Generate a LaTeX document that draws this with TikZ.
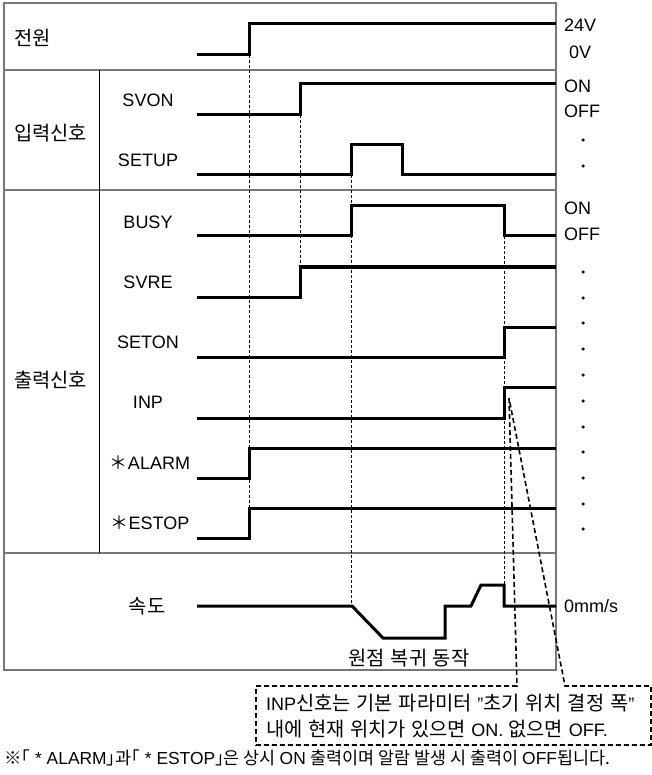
\documentclass[tikz,border=0pt]{standalone}
\usepackage{fontspec}
\setmainfont{Liberation Sans}
\newfontfamily\kr[Scale=1.1,WordSpace=1.3]{Noto Sans CJK KR}
\newfontfamily\krfoot{Noto Sans CJK KR}
\definecolor{framegray}{RGB}{120,120,120}
\begin{document}
\begin{tikzpicture}[x=1pt,y=-1pt,
  sig/.style={line width=3pt},
  frameline/.style={draw=framegray,line width=1.5pt},
  guide/.style={dash pattern=on 3pt off 2pt, line width=1pt},
  callout/.style={dash pattern=on 5pt off 3pt, line width=1.6pt},
  lbl/.style={font=\fontsize{18}{21}\selectfont, inner sep=0},
  footlbl/.style={font=\fontsize{17.4}{21}\selectfont, inner sep=0},
  dotmark/.style={circle, fill, inner sep=0, minimum size=3.5pt}
]
\useasboundingbox (0,0) rectangle (652,775);
% frame
\draw[frameline] (4,3) rectangle (556,670);
\draw[frameline] (4,70) -- (556,70);
\draw[frameline] (4,190) -- (556,190);
\draw[frameline] (4,553) -- (556,553);
\draw[line width=1pt] (99,70) -- (99,553);
% guides
\draw[guide] (249,55) -- (249,508);
\draw[guide] (300,115) -- (300,297);
\draw[guide] (351,175) -- (351,606);
\draw[guide] (504,236) -- (504,585);
% signals
\draw[sig] (197,55) -- (249,55) -- (249,24) -- (556,24);
\draw[sig] (197,115) -- (300,115) -- (300,84) -- (556,84);
\draw[sig] (197,175) -- (351,175) -- (351,145) -- (402,145) -- (402,175) -- (556,175);
\draw[sig] (197,236) -- (351,236) -- (351,206) -- (504,206) -- (504,236) -- (556,236);
\draw[sig] (197,297) -- (300,297) -- (300,267) -- (556,267);
\draw[sig] (197,357) -- (504,357) -- (504,327) -- (556,327);
\draw[sig] (197,418) -- (504,418) -- (504,387) -- (556,387);
\draw[sig] (197,478) -- (249,478) -- (249,448) -- (556,448);
\draw[sig] (197,538) -- (249,538) -- (249,508) -- (556,508);
\draw[sig] (197,606) -- (352,606) -- (383,638) -- (445,638) -- (445,606) -- (471,606) -- (481,585) -- (504,585) -- (504,606) -- (556,606);
% left labels
\node[lbl,anchor=west] (pw) at (14,38) {\kr 전원};
\node[lbl,anchor=west] (inp) at (14,133) {\kr 입력신호};
\node[lbl,anchor=west] (outp) at (14,380) {\kr 출력신호};
\node[lbl] (svon) at (148,100) {SVON};
\node[lbl] (setup) at (148,160) {SETUP};
\node[lbl] (busy) at (148,222) {BUSY};
\node[lbl] (svre) at (148,282) {SVRE};
\node[lbl] (seton) at (148,342) {SETON};
\node[lbl] (inpsig) at (148,402) {INP};
\node[lbl] (alarm) at (150,463) {{\krfoot ＊}ALARM};
\node[lbl] (estop) at (150,523) {{\krfoot ＊}ESTOP};
\node[lbl] (speed) at (147,606) {\kr 속도};
\node[lbl] (home) at (409,658) {\kr 원점 복귀 동작};
% right labels
\node[lbl,anchor=west] (v24) at (564,25) {24V};
\node[lbl,anchor=west] (v0) at (569,52) {0V};
\node[lbl,anchor=west] (on1) at (564,86) {ON};
\node[lbl,anchor=west] (off1) at (564,111) {OFF};
\node[lbl,anchor=west] (on2) at (564,208) {ON};
\node[lbl,anchor=west] (off2) at (564,234) {OFF};
\node[lbl,anchor=west] (zero) at (564,606) {0mm/s};
\foreach \i/\yy in {1/140,2/166,3/272,4/298,5/323,6/349,7/375,8/401,9/427,10/452,11/478,12/504,13/529}
  \node[dotmark] (d\i) at (583,\yy) {};
% callout
\coordinate (ptr) at (509,398);
\draw[callout] (ptr) -- (517,686) -- (256,686) -- (256,745) -- (651,745) -- (651,686) -- (565,686) -- (ptr);
\node[lbl,anchor=west,align=left] (note1) at (266,703) {INP{\kr 신호는 기본 파라미터 }"{\kr 초기 위치 결정 폭}"};
\node[lbl,anchor=west,align=left] (note2) at (266,729) {{\kr 내에 현재 위치가 있으면 }ON. {\kr 없으면 }OFF.};
% footnote
\node[footlbl,anchor=west] (foot) at (4,758) {{\krfoot ※｢} * ALARM{\krfoot ｣과｢} * ESTOP{\krfoot ｣은 상시 }ON {\krfoot 출력이며 알람 발생 시 출력이 }OFF{\krfoot 됩니다.}};
\end{tikzpicture}
\end{document}
